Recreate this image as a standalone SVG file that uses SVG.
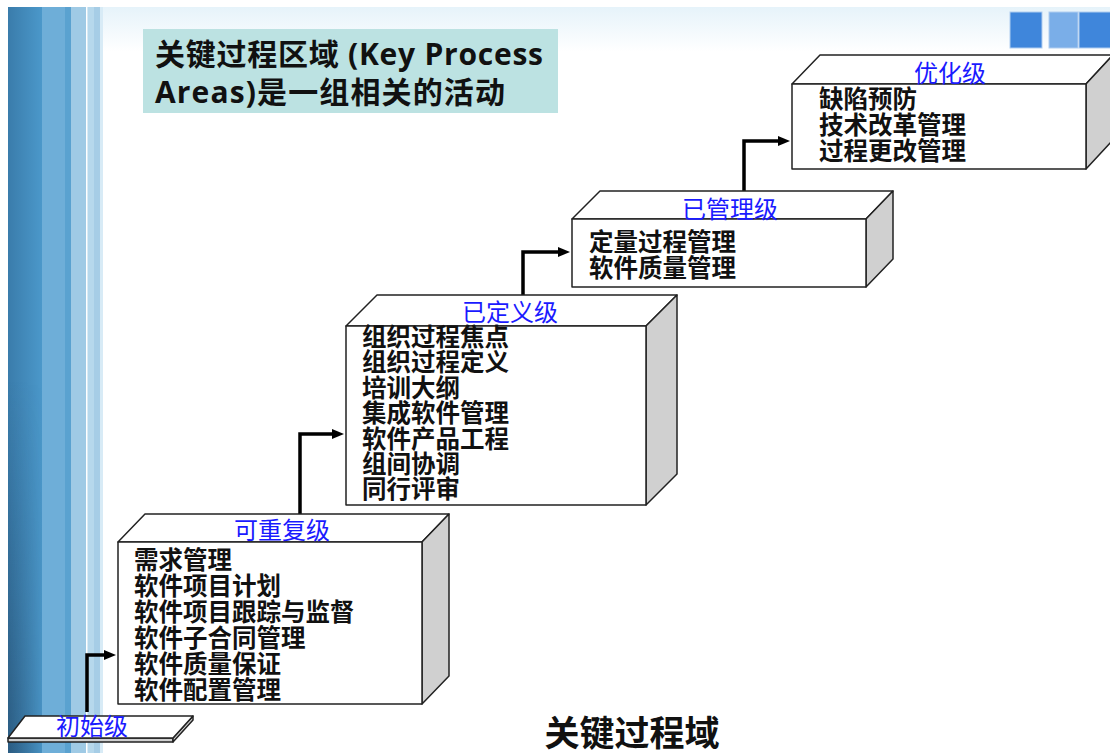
<svg xmlns="http://www.w3.org/2000/svg" width="1110" height="753" viewBox="0 0 1110 753">
<defs>
<linearGradient id="hdr" x1="0" y1="0" x2="0" y2="1">
<stop offset="0" stop-color="#e6f3fa"/>
<stop offset="1" stop-color="#ffffff"/>
</linearGradient>
<linearGradient id="dark" x1="0" y1="0" x2="1" y2="0">
<stop offset="0" stop-color="#3a7cab"/>
<stop offset="1" stop-color="#4b98ca"/>
</linearGradient>
<linearGradient id="shade" x1="0" y1="0" x2="0" y2="1">
<stop offset="0.5" stop-color="#1a3550" stop-opacity="0"/>
<stop offset="1" stop-color="#1a3550" stop-opacity="0.45"/>
</linearGradient>
<linearGradient id="shadeH" x1="0" y1="0" x2="1" y2="0">
<stop offset="0" stop-color="#fff" stop-opacity="1"/>
<stop offset="1" stop-color="#fff" stop-opacity="0"/>
</linearGradient>
<mask id="m1"><rect x="8" y="7" width="40" height="746" fill="url(#shadeH)"/></mask>
<marker id="ah" markerWidth="12" markerHeight="10" refX="1" refY="5" orient="auto" markerUnits="userSpaceOnUse">
<path d="M0,0 L12,5 L0,10 z" fill="#000"/>
</marker>
<style>
.face{fill:#fff;stroke:#222;stroke-width:1.5;stroke-linejoin:round}
.side{fill:#d0d0d0;stroke:#222;stroke-width:1.5;stroke-linejoin:round}
.lvl{font-family:"Noto Sans CJK SC",sans-serif;font-size:24px;fill:#1a1aff;text-anchor:middle}
.item{font-family:"Noto Sans CJK SC",sans-serif;font-size:24.5px;font-weight:bold;fill:#111}
.conn{fill:none;stroke:#000;stroke-width:3.5;marker-end:url(#ah)}
.ttl{font-family:"Open Sans","Noto Sans CJK SC",sans-serif;font-size:30px;font-weight:bold;fill:#111}
</style>
</defs>
<rect width="1110" height="753" fill="#fff"/>
<rect x="8" y="7" width="1102" height="45" fill="url(#hdr)"/>
<g id="sidebar">
<rect x="8" y="7" width="34" height="746" fill="url(#dark)"/>
<rect x="8" y="7" width="34" height="746" fill="url(#shade)" mask="url(#m1)"/>
<rect x="42" y="7" width="23" height="746" fill="#6eaed8"/>
<rect x="65" y="7" width="6" height="746" fill="#5aa2d0"/>
<rect x="71" y="7" width="15" height="746" fill="#9fcae5"/>
<rect x="86" y="7" width="1.5" height="746" fill="#ffffff"/>
<rect x="87.5" y="7" width="6.5" height="746" fill="#b6d8ec"/>
<rect x="94" y="7" width="6" height="746" fill="#a6cde6"/>
<rect x="100" y="7" width="3" height="746" fill="#d8ebf6"/>
</g>
<g id="squares">
<rect x="1010" y="12" width="32" height="36" fill="#3f86db" stroke="#b0cdf0" stroke-width="1"/>
<rect x="1049" y="12" width="29" height="36" fill="#7aaee8" stroke="#b0cdf0" stroke-width="1"/>
<rect x="1079" y="12" width="32" height="36" fill="#3f86db" stroke="#b0cdf0" stroke-width="1"/>
</g>
<g id="title">
<rect x="143" y="29" width="415" height="84" fill="#bce2e2"/>
<text class="ttl" x="155" y="65" textLength="388" lengthAdjust="spacing">关键过程区域 (Key Process</text>
<text class="ttl" x="155" y="103" textLength="350" lengthAdjust="spacing">Areas)是一组相关的活动</text>
</g>
<g id="connectors">
<path class="conn" d="M87,712 V655 H105"/>
<path class="conn" d="M300,514 V434 H333"/>
<path class="conn" d="M523,295 V252 H559"/>
<path class="conn" d="M744,191 V141 H779"/>
</g>
<g id="level1">
<polygon class="side" points="8,738 173,738 173,742 8,742"/>
<polygon class="side" points="173,738 193,716 193,720 173,742"/>
<polygon class="face" points="8,738 25,716 193,716 173,738"/>
<text class="lvl" x="92" y="735">初始级</text>
</g>
<g id="level2">
<polygon class="face" points="118,542 145,514 449,514 422,542"/>
<polygon class="side" points="422,542 449,514 449,676 422,704"/>
<rect class="face" x="118" y="542" width="304" height="162"/>
<text class="lvl" x="282" y="539">可重复级</text>
<text class="item" x="134" y="569">需求管理</text>
<text class="item" x="134" y="595">软件项目计划</text>
<text class="item" x="134" y="621">软件项目跟踪与监督</text>
<text class="item" x="134" y="647">软件子合同管理</text>
<text class="item" x="134" y="673">软件质量保证</text>
<text class="item" x="134" y="699">软件配置管理</text>
</g>
<g id="level3">
<polygon class="face" points="346,326 377,295 677,295 646,326"/>
<polygon class="side" points="646,326 677,295 677,474 646,505"/>
<rect class="face" x="346" y="326" width="300" height="179"/>
<text class="lvl" x="510" y="321">已定义级</text>
<text class="item" x="362" y="346">组织过程焦点</text>
<text class="item" x="362" y="371">组织过程定义</text>
<text class="item" x="362" y="397">培训大纲</text>
<text class="item" x="362" y="422">集成软件管理</text>
<text class="item" x="362" y="448">软件产品工程</text>
<text class="item" x="362" y="473">组间协调</text>
<text class="item" x="362" y="498">同行评审</text>
</g>
<g id="level4">
<polygon class="face" points="572,219 600,191 893,191 866,219"/>
<polygon class="side" points="866,219 893,191 893,259 866,287"/>
<rect class="face" x="572" y="219" width="294" height="68"/>
<text class="lvl" x="730" y="218">已管理级</text>
<text class="item" x="589" y="251">定量过程管理</text>
<text class="item" x="589" y="277">软件质量管理</text>
</g>
<g id="level5">
<polygon class="face" points="792,84 820,55 1113,55 1086,84"/>
<polygon class="side" points="1086,84 1113,55 1113,140 1086,169"/>
<rect class="face" x="792" y="84" width="294" height="85"/>
<text class="lvl" x="950" y="82">优化级</text>
<text class="item" x="819" y="108">缺陷预防</text>
<text class="item" x="819" y="134">技术改革管理</text>
<text class="item" x="819" y="160">过程更改管理</text>
</g>
<text x="632" y="746" font-family="Noto Sans CJK SC, sans-serif" font-size="35" font-weight="bold" fill="#111" text-anchor="middle">关键过程域</text>
</svg>
